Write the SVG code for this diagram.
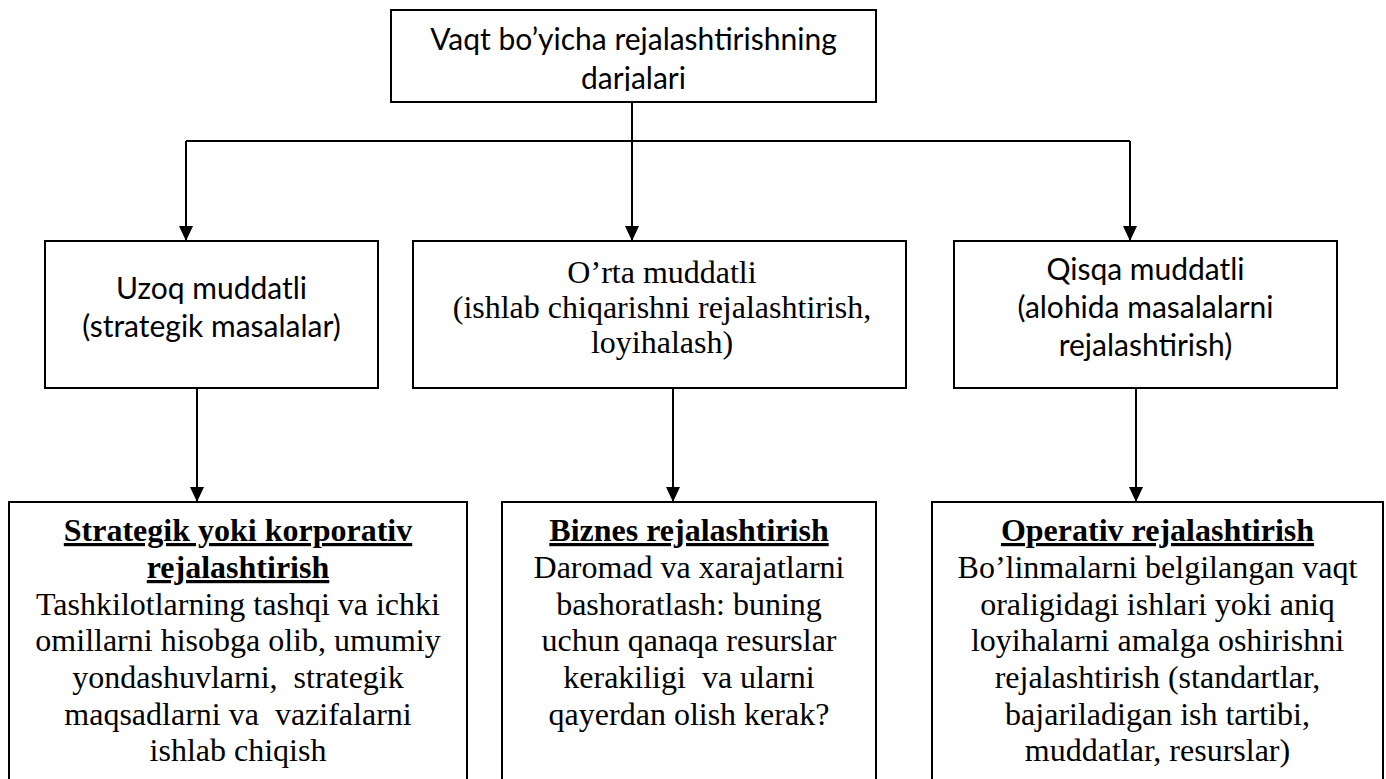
<svg xmlns="http://www.w3.org/2000/svg" width="1386" height="779" viewBox="0 0 1386 779">
  <style>
    .box { fill: #ffffff; stroke: #000000; stroke-width: 2; }
    .sans { font-family: "Lato", "Open Sans", sans-serif; font-size: 30px; fill: #000000; text-anchor: middle; }
    .serif { font-family: "Liberation Serif", "Times New Roman", serif; font-size: 32px; fill: #000000; text-anchor: middle; white-space: pre; }
    .title { font-weight: bold; text-decoration: underline; text-decoration-thickness: 3px; text-underline-offset: 4px; }
    .link { fill: none; stroke: #000000; stroke-width: 2; }
    .arrow { fill: none; stroke: #000000; stroke-width: 2; marker-end: url(#head); }
  </style>
  <defs>
    <marker id="head" markerUnits="userSpaceOnUse" markerWidth="15" markerHeight="14" refX="15" refY="7" orient="auto">
      <path d="M0,0 L15,7 L0,14 Z" fill="#000000"/>
    </marker>
    <!-- the root caption is cut just under its second baseline -->
    <clipPath id="root-clip">
      <rect x="391" y="10" width="485" height="81"/>
    </clipPath>
  </defs>
  <rect width="1386" height="779" fill="#ffffff"/>

  <!-- connectors -->
  <g id="connectors">
    <path class="link" d="M632,102 V141"/>
    <path class="link" d="M186,141 H1130"/>
    <path class="arrow" d="M186,141 V241"/>
    <path class="arrow" d="M632,141 V241"/>
    <path class="arrow" d="M1130,141 V241"/>
    <path class="arrow" d="M197,388 V502"/>
    <path class="arrow" d="M673,388 V502"/>
    <path class="arrow" d="M1136,388 V502"/>
  </g>

  <!-- root -->
  <g id="root">
    <rect class="box" x="391" y="10" width="485" height="92"/>
    <g clip-path="url(#root-clip)">
      <text class="sans" x="633.5" y="50">Vaqt bo’yicha rejalashtirishning</text>
      <text class="sans" x="633.5" y="89">darjalari</text>
    </g>
  </g>

  <!-- planning horizons -->
  <g id="long-term">
    <rect class="box" x="45" y="241" width="333" height="147"/>
    <text class="sans" x="211.5" y="299">Uzoq muddatli</text>
    <text class="sans" x="211.5" y="337">(strategik masalalar)</text>
  </g>
  <g id="mid-term">
    <rect class="box" x="413" y="241" width="493" height="147"/>
    <text class="serif" x="662" y="283">O’rta muddatli</text>
    <text class="serif" x="662" y="318">(ishlab chiqarishni rejalashtirish,</text>
    <text class="serif" x="662" y="353">loyihalash)</text>
  </g>
  <g id="short-term">
    <rect class="box" x="954" y="241" width="383" height="147"/>
    <text class="sans" x="1145.5" y="280">Qisqa muddatli</text>
    <text class="sans" x="1145.5" y="318">(alohida masalalarni</text>
    <text class="sans" x="1145.5" y="356">rejalashtirish)</text>
  </g>

  <!-- planning types -->
  <g id="strategic">
    <rect class="box" x="9" y="502" width="458" height="300"/>
    <text class="serif title" x="238" y="541">Strategik yoki korporativ</text>
    <text class="serif title" x="238" y="578">rejalashtirish</text>
    <text class="serif" x="238" y="615">Tashkilotlarning tashqi va ichki</text>
    <text class="serif" x="238" y="651">omillarni hisobga olib, umumiy</text>
    <text class="serif" x="238" y="688">yondashuvlarni,  strategik</text>
    <text class="serif" x="238" y="725">maqsadlarni va  vazifalarni</text>
    <text class="serif" x="238" y="761">ishlab chiqish</text>
  </g>
  <g id="business">
    <rect class="box" x="502" y="502" width="374" height="300"/>
    <text class="serif title" x="689" y="541">Biznes rejalashtirish</text>
    <text class="serif" x="689" y="578">Daromad va xarajatlarni</text>
    <text class="serif" x="689" y="615">bashoratlash: buning</text>
    <text class="serif" x="689" y="651">uchun qanaqa resurslar</text>
    <text class="serif" x="689" y="688">kerakiligi  va ularni</text>
    <text class="serif" x="689" y="725">qayerdan olish kerak?</text>
  </g>
  <g id="operative">
    <rect class="box" x="932" y="502" width="451" height="300"/>
    <text class="serif title" x="1157.5" y="541">Operativ rejalashtirish</text>
    <text class="serif" x="1157.5" y="578">Bo’linmalarni belgilangan vaqt</text>
    <text class="serif" x="1157.5" y="615">oraligidagi ishlari yoki aniq</text>
    <text class="serif" x="1157.5" y="651">loyihalarni amalga oshirishni</text>
    <text class="serif" x="1157.5" y="688">rejalashtirish (standartlar,</text>
    <text class="serif" x="1157.5" y="725">bajariladigan ish tartibi,</text>
    <text class="serif" x="1157.5" y="761">muddatlar, resurslar)</text>
  </g>
</svg>
